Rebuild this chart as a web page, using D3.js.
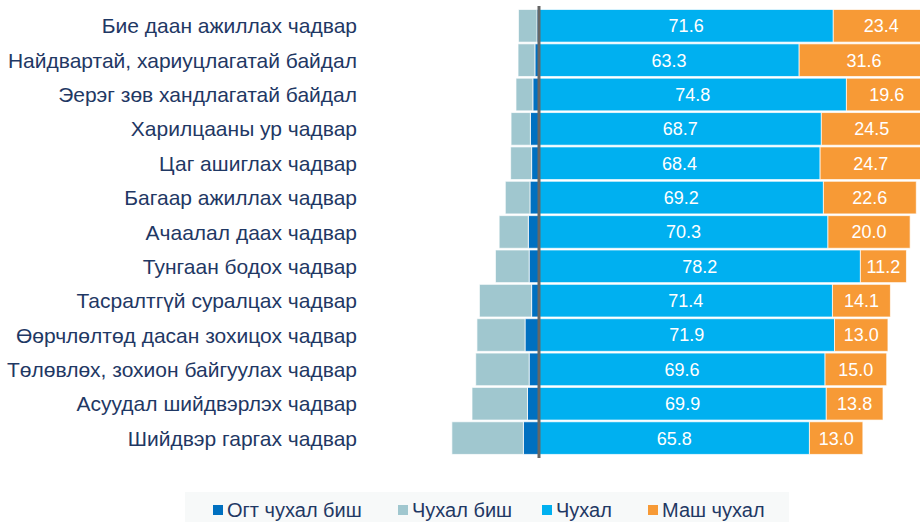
<!DOCTYPE html>
<html>
<head>
<meta charset="utf-8">
<script src="https://cdn.jsdelivr.net/npm/d3@7"></script>
<style>
  body { margin: 0; background: #fff; }
  svg { display: block; font-family: "Liberation Sans", Arial, sans-serif; }
</style>
</head>
<body>
<div id="chart"></div>
<script>
const categories = [
  'Бие даан ажиллах чадвар',
  'Найдвартай, хариуцлагатай байдал',
  'Эерэг зөв хандлагатай байдал',
  'Харилцааны ур чадвар',
  'Цаг ашиглах чадвар',
  'Багаар ажиллах чадвар',
  'Ачаалал даах чадвар',
  'Тунгаан бодох чадвар',
  'Тасралтгүй суралцах чадвар',
  'Өөрчлөлтөд дасан зохицох чадвар',
  'Төлөвлөх, зохион байгуулах чадвар',
  'Асуудал шийдвэрлэх чадвар',
  'Шийдвэр гаргах чадвар'
];
const notAtAll  = [0.5, 1.0, 1.5, 2.1, 1.8, 2.2, 2.6, 2.4, 1.8, 3.4, 2.4, 2.8, 3.8];
const notImp    = [4.5, 4.1, 4.1, 4.7, 5.1, 6.0, 7.1, 8.2, 12.7, 11.7, 13.0, 13.5, 17.4];
const important = [71.6, 63.3, 74.8, 68.7, 68.4, 69.2, 70.3, 78.2, 71.4, 71.9, 69.6, 69.9, 65.8];
const veryImp   = [23.4, 31.6, 19.6, 24.5, 24.7, 22.6, 20.0, 11.2, 14.1, 13.0, 15.0, 13.8, 13.0];
const seriesNames = ['Огт чухал биш', 'Чухал биш', 'Чухал', 'Маш чухал'];
const seriesColors = ['#0070C0', '#A0C7CF', '#00B0F0', '#F79A36'];

const width = 920, height = 522;
const center = 539;
const k = 4.11;

const svg = d3.select('#chart').append('svg')
  .attr('width', width)
  .attr('height', height);

const x = d3.scaleLinear()
  .domain([-25, 100])
  .range([center - 25 * k, center + 100 * k]);

const y = d3.scaleBand()
  .domain(categories)
  .range([8.8, 455.1])
  .paddingInner(0.05)
  .paddingOuter(0.02);

const rows = categories.map((c, i) => ({
  name: c,
  segs: [
    { s: 0, x0: -notAtAll[i], x1: 0, v: notAtAll[i] },
    { s: 1, x0: -notAtAll[i] - notImp[i], x1: -notAtAll[i], v: notImp[i] },
    { s: 2, x0: 0, x1: important[i], v: important[i] },
    { s: 3, x0: important[i], x1: important[i] + veryImp[i], v: veryImp[i] }
  ]
}));

const row = svg.selectAll('g.row')
  .data(rows)
  .enter().append('g')
  .attr('class', 'row')
  .attr('transform', d => `translate(0,${y(d.name)})`);

row.selectAll('rect')
  .data(d => d.segs)
  .enter().append('rect')
  .attr('x', d => x(d.x0))
  .attr('width', d => x(d.x1) - x(d.x0))
  .attr('y', 0)
  .attr('height', y.bandwidth())
  .attr('fill', d => seriesColors[d.s])
  .attr('stroke', '#fff')
  .attr('stroke-opacity', 0.7)
  .attr('stroke-width', 1);

row.selectAll('text.val')
  .data(d => d.segs.filter(s => s.s >= 2))
  .enter().append('text')
  .attr('class', 'val')
  .attr('x', d => (x(d.x0) + x(d.x1)) / 2)
  .attr('y', y.bandwidth() / 2)
  .attr('dy', '0.36em')
  .attr('text-anchor', 'middle')
  .attr('fill', '#fff')
  .attr('font-size', 18)
  .text(d => d.v.toFixed(1));

row.append('text')
  .attr('x', 357)
  .attr('y', y.bandwidth() / 2)
  .attr('dy', '0.36em')
  .attr('text-anchor', 'end')
  .attr('fill', '#1F3864')
  .attr('font-size', 21)
  .text(d => d.name);

// center line
svg.append('line')
  .attr('x1', x(0)).attr('x2', x(0))
  .attr('y1', 6).attr('y2', 458)
  .attr('stroke', '#666')
  .attr('stroke-width', 3);

// legend
svg.append('rect')
  .attr('x', 185).attr('y', 492)
  .attr('width', 604).attr('height', 30)
  .attr('fill', '#F7F9F9');

const legendX = [213, 398, 542, 648];
const legend = svg.selectAll('g.legend')
  .data(seriesNames)
  .enter().append('g')
  .attr('class', 'legend')
  .attr('transform', (d, i) => `translate(${legendX[i]},505)`);

legend.append('rect')
  .attr('width', 10)
  .attr('height', 10)
  .attr('fill', (d, i) => seriesColors[i]);

legend.append('text')
  .attr('x', 14)
  .attr('y', 5)
  .attr('dy', '0.36em')
  .attr('fill', '#1F3864')
  .attr('font-size', 20)
  .text(d => d);
</script>
</body>
</html>
